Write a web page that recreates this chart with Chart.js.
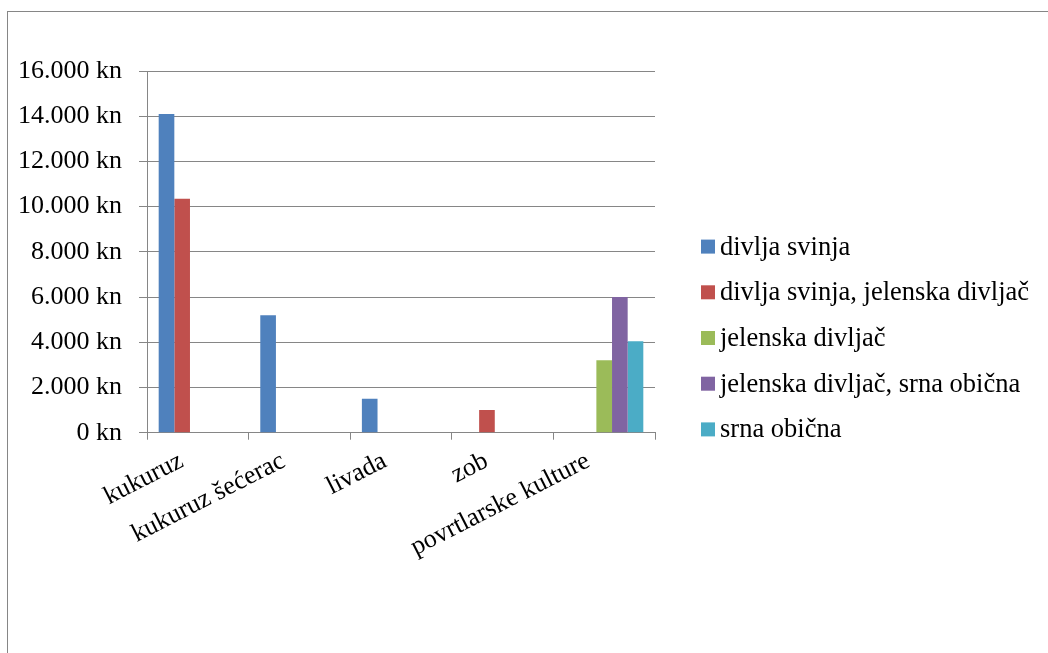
<!DOCTYPE html>
<html>
<head>
<meta charset="utf-8">
<script src="https://cdn.jsdelivr.net/npm/chart.js@4/dist/chart.umd.min.js"></script>
<style>
  html, body { margin: 0; padding: 0; background: #fff; }
  #wrap { position: relative; width: 1048px; height: 653px; overflow: hidden; }
  #frame { position: absolute; left: 7px; top: 11px; width: 1100px; height: 700px; border: 1px solid #868686; box-sizing: border-box; }
  canvas { position: absolute; left: 0; top: 0; }
</style>
</head>
<body>
<div id="wrap">
  <div id="frame"></div>
  <canvas id="c" width="1048" height="653"></canvas>
</div>
<script>
const categories = ['kukuruz', 'kukuruz šećerac', 'livada', 'zob', 'povrtlarske kulture']
const seriesNames = ['divlja svinja', 'divlja svinja, jelenska divljač', 'jelenska divljač', 'jelenska divljač, srna obična', 'srna obična']
const seriesColors = ['#4F81BD', '#C0504D', '#9BBB59', '#8064A2', '#4BACC6']
const divljaSvinja = [14100, 5200, 1500, null, null]
const divljaSvinjaJelenska = [10350, null, null, 1000, null]
const jelenskaDivljac = [null, null, null, null, 3200]
const jelenskaSrna = [null, null, null, null, 6000]
const srnaObicna = [null, null, null, null, 4050]
const yTicks = [0, 2000, 4000, 6000, 8000, 10000, 12000, 14000, 16000]

const seriesValues = [divljaSvinja, divljaSvinjaJelenska, jelenskaDivljac, jelenskaSrna, srnaObicna]
const FONT = "'Liberation Serif', 'Times New Roman', serif"
const GRID = '#868686'

function kn(v) {
  return String(v).replace(/\B(?=(\d{3})+(?!\d))/g, '.') + ' kn'
}

// legend drawn by hand so it can sit away from the plot like in Excel
const sideLegend = {
  id: 'sideLegend',
  afterDraw(chart) {
    const ctx = chart.ctx
    const x = chart.chartArea.right + 46
    const step = 45.7
    const y0 = 338 - step * 2
    ctx.save()
    ctx.font = Chart.helpers.toFont({ family: FONT, size: 26.5 }).string
    ctx.textBaseline = 'middle'
    chart.data.datasets.forEach((ds, i) => {
      const y = y0 + i * step
      ctx.fillStyle = ds.backgroundColor
      ctx.fillRect(x, y - 7, 14, 14)
      ctx.fillStyle = '#000'
      ctx.fillText(ds.label, x + 19, y + 1)
    })
    ctx.restore()
  }
}

new Chart(document.getElementById('c'), {
  type: 'bar',
  data: {
    labels: categories,
    datasets: seriesNames.map((name, i) => ({
      label: name,
      data: seriesValues[i],
      backgroundColor: seriesColors[i],
      borderWidth: 0,
      categoryPercentage: 0.77,
      barPercentage: 1.0
    }))
  },
  options: {
    responsive: false,
    animation: false,
    layout: { padding: { left: 1, top: 71, right: 393, bottom: 84 } },
    plugins: { legend: { display: false }, tooltip: { enabled: false } },
    scales: {
      x: {
        offset: true,
        grid: { offset: true, drawOnChartArea: false, drawTicks: true, tickLength: 7, color: GRID },
        border: { color: GRID },
        ticks: { color: '#000', font: { family: FONT, size: 26 }, minRotation: 27, maxRotation: 27, autoSkip: false, padding: 6, labelOffset: -16 }
      },
      y: {
        min: 0, max: 16000,
        afterBuildTicks: (axis) => { axis.ticks = yTicks.map(v => ({ value: v })) },
        grid: { color: GRID, tickLength: 8 },
        border: { color: GRID },
        ticks: { color: '#000', font: { family: FONT, size: 26 }, padding: 17, callback: (v) => kn(v) }
      }
    }
  },
  plugins: [sideLegend]
})
</script>
</body>
</html>
